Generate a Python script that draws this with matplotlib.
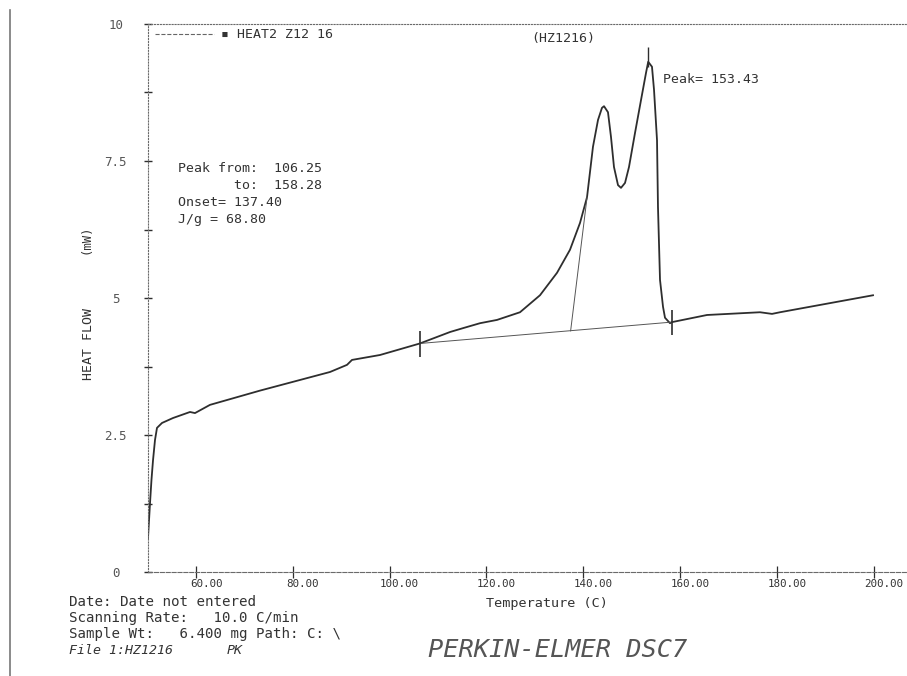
import matplotlib
matplotlib.use("Agg")
import matplotlib.pyplot as plt
import matplotlib.transforms as mtransforms
from matplotlib.lines import Line2D

plt.rcParams['font.family'] = ['DejaVu Sans Mono', 'DejaVu Sans']

# DSC heating scan
temp = [50.08, 50.50, 50.80, 51.12, 51.53, 51.94, 52.98, 55.25, 58.76, 59.79,
        62.89, 73.22, 87.69, 91.20, 92.23, 98.02, 106.25, 112.50, 115.17,
        118.68, 122.19, 126.94, 131.07, 134.59, 137.27, 139.34, 140.79,
        142.02, 143.06, 143.88, 144.30, 145.12, 145.74, 146.36, 147.19,
        147.81, 148.64, 149.46, 150.70, 151.94, 152.98, 153.43, 154.21,
        154.63, 155.25, 155.45, 155.87, 156.49, 156.90, 157.93, 158.35,
        165.58, 176.53, 179.01, 180.66, 199.88]
heat_flow = [0.62, 1.26, 1.68, 2.04, 2.41, 2.63, 2.72, 2.81, 2.92, 2.90,
             3.05, 3.31, 3.65, 3.78, 3.87, 3.96, 4.17, 4.38, 4.45,
             4.54, 4.60, 4.74, 5.05, 5.46, 5.88, 6.37, 6.84,
             7.76, 8.25, 8.47, 8.50, 8.39, 7.94, 7.39, 7.06,
             7.01, 7.10, 7.39, 8.01, 8.61, 9.11, 9.31, 9.22,
             8.80, 7.88, 6.66, 5.33, 4.84, 4.64, 4.54, 4.56,
             4.69, 4.74, 4.71, 4.74, 5.05]

# integration limits / baseline and onset tangent
limit_temps = [106.25, 158.28]
limit_flow = [4.17, 4.56]
limit_lo = [3.92, 4.32]
limit_hi = [4.40, 4.78]
onset_temps = [137.40, 140.80]
onset_flow = [4.40, 6.84]
peak_temp = 153.43
peak_flow = 9.31

y_major = [0, 2.5, 5, 7.5, 10]
y_labels = ["0", "2.5", "5", "7.5", "10"]
y_minor = [1.25, 3.75, 6.25, 8.75]
x_ticks = [60, 80, 100, 120, 140, 160, 180, 200]
x_labels = ["60.00", "80.00", "100.00", "120.00", "140.00", "160.00", "180.00", "200.00"]

info_lines = ["Peak from:  106.25", "       to:  158.28", "Onset= 137.40", "J/g = 68.80"]
footer_lines = ["Date: Date not entered", "Scanning Rate:   10.0 C/min",
                "Sample Wt:   6.400 mg Path: C: \\"]

ink = '#2e2e2e'
frame = '#6a6a6a'
txt = '#333333'

fig = plt.figure(figsize=(9.07, 6.76), dpi=100)
ax = fig.add_axes([147.6 / 907, 104 / 676, 759.4 / 907, 548 / 676])
ax.set_xlim(50.0, 206.9)
ax.set_ylim(0, 10)

ax.plot(temp, heat_flow, color=ink, lw=1.3)
ax.plot(limit_temps, limit_flow, color='#555555', lw=0.7)
ax.plot(onset_temps, onset_flow, color='#555555', lw=0.7)
ax.vlines(limit_temps, limit_lo, limit_hi, color=ink, lw=1.2)
ax.vlines(peak_temp, peak_flow - 0.1, peak_flow + 0.27, color=ink, lw=1.0)

# frame like the plotter output
ax.spines['right'].set_visible(False)
ax.spines['left'].set_linestyle(':')
ax.spines['top'].set_linestyle(':')
ax.spines['bottom'].set_linestyle('--')
for s in ['left', 'top', 'bottom']:
    ax.spines[s].set_color(frame)
    ax.spines[s].set_linewidth(0.8)

ax.set_yticks(y_major)
ax.set_yticklabels(y_labels)
ax.set_yticks(y_minor, minor=True)
ax.tick_params(axis='y', which='both', direction='inout', length=6, width=1.0,
               color=ink, labelsize=9, labelcolor='#555555', pad=20)
for lab in ax.get_yticklabels():
    lab.set_horizontalalignment('center')
ax.set_xticks(x_ticks)
ax.set_xticklabels(x_labels)
ax.tick_params(axis='x', which='both', direction='inout', length=8, width=0.9,
               color=ink, labelsize=7.8, labelcolor=txt, pad=1)
shift = mtransforms.ScaledTranslation(0.10, 0, fig.dpi_scale_trans)
for lab in ax.get_xticklabels():
    lab.set_transform(lab.get_transform() + shift)

ax.plot([], [], color='#666666', lw=0.8, ls='--', label='\u25aa HEAT2 Z12 16')
ax.legend(loc='center left', bbox_to_anchor=(0.0097, 0.980), frameon=False,
          borderpad=0, borderaxespad=0, handlelength=4.5, handletextpad=0.5,
          fontsize=9.5, labelcolor=txt)

ax.text(0.547, 0.974, '(HZ1216)', transform=ax.transAxes, ha='center', va='center',
        fontsize=9.5, color=txt)
ax.annotate(f'Peak= {peak_temp:.2f}', xy=(peak_temp, peak_flow), xytext=(15, -18),
            textcoords='offset pixels', ha='left', va='center', fontsize=9.5, color=txt)

for i, line in enumerate(info_lines):
    ax.text(0.040, 0.737 - i * 0.031, line, transform=ax.transAxes, ha='left', va='center',
            fontsize=9.5, color=txt)

fig.text(88 / 907, 1 - 344 / 676, 'HEAT FLOW', rotation=90, ha='center', va='center',
         fontsize=9.5, color=txt)
fig.text(86 / 907, 1 - 239 / 676, '(mW)', rotation=90, ha='center', va='center',
         fontsize=8.8, color=txt)
fig.text(547 / 907, 1 - 603 / 676, 'Temperature (C)', ha='center', va='center',
         fontsize=9.7, color=txt)

for i, line in enumerate(footer_lines):
    fig.text(69 / 907, 1 - (602 + 16 * i) / 676, line, ha='left', va='center',
             fontsize=10.2, color=txt)
fig.text(69 / 907, 1 - 650 / 676, 'File 1:HZ1216', ha='left', va='center',
         fontsize=9.5, style='italic', color=txt)
fig.text(227 / 907, 1 - 650 / 676, 'PK', ha='left', va='center',
         fontsize=9.5, style='italic', color=txt)
fig.text(428 / 907, 1 - 650 / 676, 'PERKIN-ELMER DSC7', ha='left', va='center',
         fontsize=18.2, style='italic', color='#555555')

# page edge of the scan
fig.add_artist(Line2D([10 / 907, 10 / 907], [0, 1 - 10 / 676], transform=fig.transFigure,
                      color='#777777', lw=1.2))

fig.savefig('out.png', dpi=100, facecolor='white')
